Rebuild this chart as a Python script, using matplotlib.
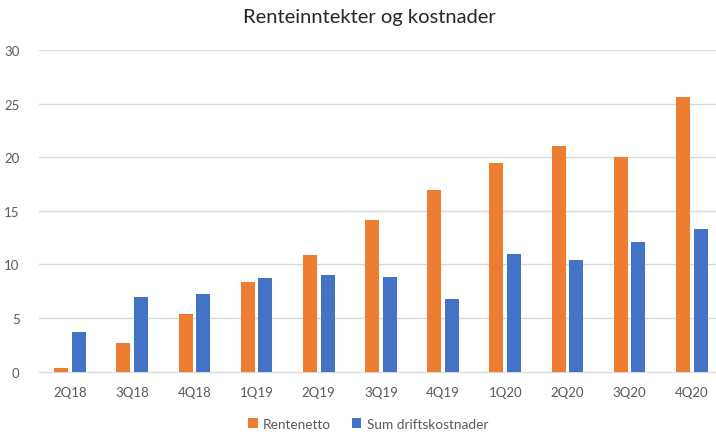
import numpy as np
import matplotlib.pyplot as plt

plt.rcParams['font.family'] = ['Lato', 'DejaVu Sans']

quarters = ["2Q18", "3Q18", "4Q18", "1Q19", "2Q19", "3Q19", "4Q19", "1Q20", "2Q20", "3Q20", "4Q20"]
rentenetto = [0.3, 2.7, 5.4, 8.4, 10.9, 14.1, 16.9, 19.5, 21.0, 20.0, 25.6]
driftskostnader = [3.7, 7.0, 7.2, 8.7, 9.0, 8.8, 6.8, 11.0, 10.4, 12.1, 13.3]

orange = "#ED7D31"
blue = "#4472C4"

fig = plt.figure(figsize=(7.16, 4.35), dpi=100)
ax = fig.add_axes([0.0545, 0.1432, 0.955, 0.7396])

x = np.arange(len(quarters))
w = 0.225
ax.bar(x - 0.142, rentenetto, w, color=orange, label="Rentenetto", zorder=3)
ax.bar(x + 0.142, driftskostnader, w, color=blue, label="Sum driftskostnader", zorder=3)

ax.set_xlim(-0.5, len(quarters) - 0.5)
ax.set_ylim(0, 30)
ax.set_yticks(range(0, 31, 5))
ax.set_xticks(x)
ax.set_xticklabels(quarters)
ax.yaxis.grid(True, color="#D9D9D9", linewidth=1, zorder=0)
for s in ["top", "right", "left"]:
    ax.spines[s].set_visible(False)
ax.spines["bottom"].set_color("#D9D9D9")
ax.tick_params(axis="both", length=0, labelsize=9.5, colors="#595959")
ax.tick_params(axis="x", pad=10)
ax.tick_params(axis="y", pad=14)

fig.text(369 / 716, 1 - 18 / 435, "Renteinntekter og kostnader", ha="center", va="center",
         fontsize=14.5, color="#262626")

fig.legend(loc="center", bbox_to_anchor=(368 / 716, 1 - 425 / 435), ncol=2, frameon=False,
           fontsize=9.8, handlelength=0.7, handleheight=0.7, columnspacing=1.5,
           handletextpad=0.4, labelcolor="#595959")

fig.savefig("out.png", dpi=100)
